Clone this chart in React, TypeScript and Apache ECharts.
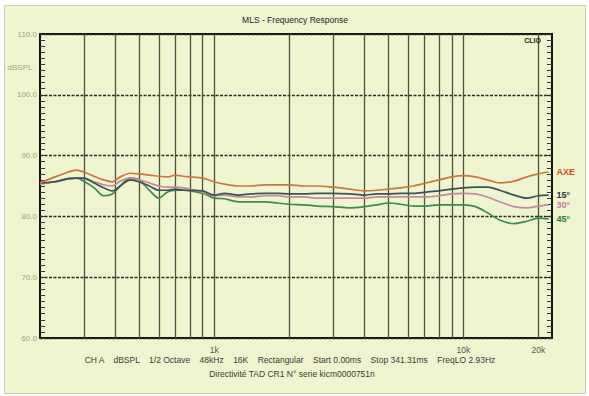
import React, { useEffect, useRef } from "react";
import * as echarts from "echarts";

const freqs = [200, 230, 260, 280, 300, 330, 360, 390, 420, 460, 500, 550, 600, 650, 700, 750, 800, 900, 1000, 1100, 1250, 1400, 1600, 1800, 2000, 2300, 2600, 3000, 3500, 4000, 4500, 5000, 5600, 6300, 7100, 8000, 9000, 10000, 11200, 12500, 14000, 16000, 18000, 20000, 22000];

const axe = [85.5, 86.5, 87.3, 87.6, 87.3, 86.6, 86.0, 85.7, 86.5, 87.1, 87.0, 86.8, 86.6, 86.5, 86.8, 86.6, 86.5, 86.3, 85.7, 85.3, 85.0, 85.0, 85.2, 85.2, 85.2, 85.0, 85.0, 84.8, 84.5, 84.2, 84.3, 84.5, 84.7, 85.0, 85.5, 86.0, 86.5, 86.7, 86.5, 86.0, 85.5, 85.8, 86.5, 87.0, 87.3];
const deg15 = [85.5, 85.7, 86.2, 86.3, 86.3, 85.5, 84.7, 84.2, 85.0, 86.0, 85.7, 85.0, 84.3, 84.3, 84.5, 84.3, 84.3, 84.2, 83.5, 83.8, 83.5, 83.7, 83.8, 83.8, 83.7, 83.7, 83.8, 83.8, 83.7, 83.5, 83.7, 83.7, 83.8, 83.8, 84.0, 84.2, 84.5, 84.7, 84.8, 84.8, 84.3, 83.5, 83.0, 83.4, 83.5];
const deg30 = [85.3, 85.7, 86.2, 86.3, 86.2, 85.7, 85.2, 85.0, 85.8, 86.3, 86.0, 85.5, 85.0, 84.8, 84.8, 84.7, 84.5, 84.0, 83.4, 83.5, 83.2, 83.2, 83.4, 83.4, 83.2, 83.2, 83.0, 83.0, 83.0, 83.0, 83.2, 83.2, 83.2, 83.2, 83.2, 83.4, 83.7, 83.8, 83.7, 83.2, 82.4, 81.6, 81.4, 81.7, 81.9];
const deg45 = [85.5, 85.7, 86.2, 86.3, 85.8, 84.7, 83.4, 83.7, 85.0, 86.3, 86.0, 84.3, 83.0, 84.0, 84.3, 84.3, 84.2, 83.8, 83.0, 82.9, 82.4, 82.4, 82.4, 82.2, 82.0, 81.9, 81.7, 81.6, 81.4, 81.6, 81.9, 82.2, 82.0, 81.7, 81.7, 81.9, 81.9, 81.9, 81.6, 80.6, 79.4, 78.8, 79.2, 79.7, 79.6];

const seriesNames = ["AXE", "15°", "30°", "45°"];
const seriesLineColors = ["#c9783e", "#3c5058", "#c48a9c", "#3f8a4e"];
const seriesLabelColors = ["#c8501e", "#27363c", "#c47f98", "#2b7a3a"];

const yTicks = [60, 70, 80, 90, 100, 110];
const gridFreqs = [300, 400, 500, 600, 700, 800, 900, 1000, 2000, 3000, 4000, 5000, 6000, 7000, 8000, 9000, 10000, 20000];
const xLabels: [number, string][] = [[200, "200"], [1000, "1k"], [10000, "10k"], [15800, "Hz"], [20000, "20k"]];

const title = "MLS - Frequency Response";
const footer1 = "CH A    dBSPL    1/2 Octave    48kHz    16K    Rectangular    Start 0.00ms    Stop 341.31ms    FreqLO 2.93Hz";
const footer2 = "Directivité TAD CR1 N° serie kicm0000751n";

const FONT = "Liberation Sans, Arial, sans-serif";

export default function App() {
  const ref = useRef<HTMLDivElement>(null);
  useEffect(() => {
    if (!ref.current) return;
    const chart = echarts.init(ref.current, null, { renderer: "svg" });
    const datasets = [axe, deg15, deg30, deg45];
    const markData: any[] = [];
    gridFreqs.forEach((f) => {
      const lbl = xLabels.find((l) => l[0] === f);
      markData.push({
        xAxis: f,
        lineStyle: { color: "#4f4f3c", width: 1.3, type: "solid" },
        label: lbl ? { show: true, formatter: lbl[1] } : { show: false },
      });
    });
    xLabels.forEach(([f, t]) => {
      if (gridFreqs.indexOf(f) < 0) {
        markData.push({
          xAxis: f,
          lineStyle: { opacity: 0 },
          label: { show: true, formatter: t },
        });
      }
    });
    const series: any[] = datasets.map((d, i) => ({
      name: seriesNames[i],
      type: "line",
      data: freqs.map((f, j) => [f, d[j]]),
      showSymbol: false,
      smooth: 0.3,
      lineStyle: { color: seriesLineColors[i], width: 1.7 },
      itemStyle: { color: seriesLineColors[i] },
      z: 5 - i,
      endLabel: {
        show: true,
        formatter: seriesNames[i],
        color: seriesLabelColors[i],
        fontFamily: FONT,
        fontWeight: "bold",
        fontSize: 9,
        distance: 8,
      },
    }));
    series[0].markLine = {
      silent: true,
      symbol: ["none", "none"],
      z: 1,
      label: {
        position: "start",
        distance: 7,
        color: "#55554a",
        fontFamily: FONT,
        fontSize: 8.5,
      },
      data: markData,
    };
    chart.setOption({
      animation: false,
      backgroundColor: "#ffffff",
      graphic: [
        {
          type: "rect",
          shape: { x: 4.5, y: 5.5, width: 581, height: 388 },
          style: { fill: "#eff5d0", stroke: "#c9cbb5", lineWidth: 1 },
          z: -10,
          silent: true,
        },
        {
          type: "text",
          x: 295,
          y: 20,
          style: { text: title, fill: "#222", font: `8.5px ${FONT}`, textAlign: "center", textVerticalAlign: "middle" },
        },
        {
          type: "text",
          x: 20,
          y: 67,
          style: { text: "dBSPL", fill: "#a89f80", font: `8px ${FONT}`, textAlign: "center", textVerticalAlign: "middle" },
        },
        {
          type: "text",
          x: 541,
          y: 40,
          style: { text: "CLIO", fill: "#222", font: `bold 7px ${FONT}`, textAlign: "right", textVerticalAlign: "middle" },
          z: 10,
        },
        {
          type: "text",
          x: 290,
          y: 360,
          style: { text: footer1, fill: "#3a3a30", font: `8.5px ${FONT}`, textAlign: "center", textVerticalAlign: "middle" },
        },
        {
          type: "text",
          x: 292,
          y: 374,
          style: { text: footer2, fill: "#3a3a30", font: `8.5px ${FONT}`, textAlign: "center", textVerticalAlign: "middle" },
        },
      ],
      grid: {
        left: 40,
        right: 37,
        top: 34,
        bottom: 58,
        show: true,
        backgroundColor: "#eff5d0",
        borderColor: "#111",
        borderWidth: 1.8,
        z: 0,
      },
      xAxis: {
        type: "log",
        logBase: 10,
        min: 200,
        max: 22700,
        axisLine: { show: false },
        axisTick: { show: false },
        axisLabel: { show: false },
        splitLine: { show: false },
        minorTick: { show: false },
        minorSplitLine: { show: false },
      },
      yAxis: [
        {
          type: "value",
          min: 60,
          max: 110,
          interval: 10,
          axisLine: { show: true, lineStyle: { color: "#111", width: 1.8 } },
          axisTick: { show: true, inside: true, length: 6, lineStyle: { color: "#333" } },
          minorTick: { show: true, splitNumber: 10, length: 5, lineStyle: { color: "#333" } },
          axisLabel: {
            formatter: (v: number) => (yTicks.indexOf(v) >= 0 ? v.toFixed(1) : ""),
            color: "#a89f80",
            fontFamily: FONT,
            fontSize: 8,
            margin: 3,
          },
          splitLine: { show: true, lineStyle: { color: "#2e2e22", width: 1.4, type: [3, 1.5] } },
        },
        {
          type: "value",
          min: 60,
          max: 110,
          interval: 10,
          position: "right",
          axisLine: { show: true, lineStyle: { color: "#111", width: 1.8 } },
          axisTick: { show: true, inside: true, length: 6, lineStyle: { color: "#333" } },
          minorTick: { show: true, splitNumber: 10, length: 5, lineStyle: { color: "#333" } },
          axisLabel: { show: false },
          splitLine: { show: false },
        },
      ],
      series,
    });
    return () => chart.dispose();
  }, []);
  return (
    <div
      ref={ref}
      style={{ position: "fixed", left: 0, top: 0, width: 589, height: 396 }}
    />
  );
}
